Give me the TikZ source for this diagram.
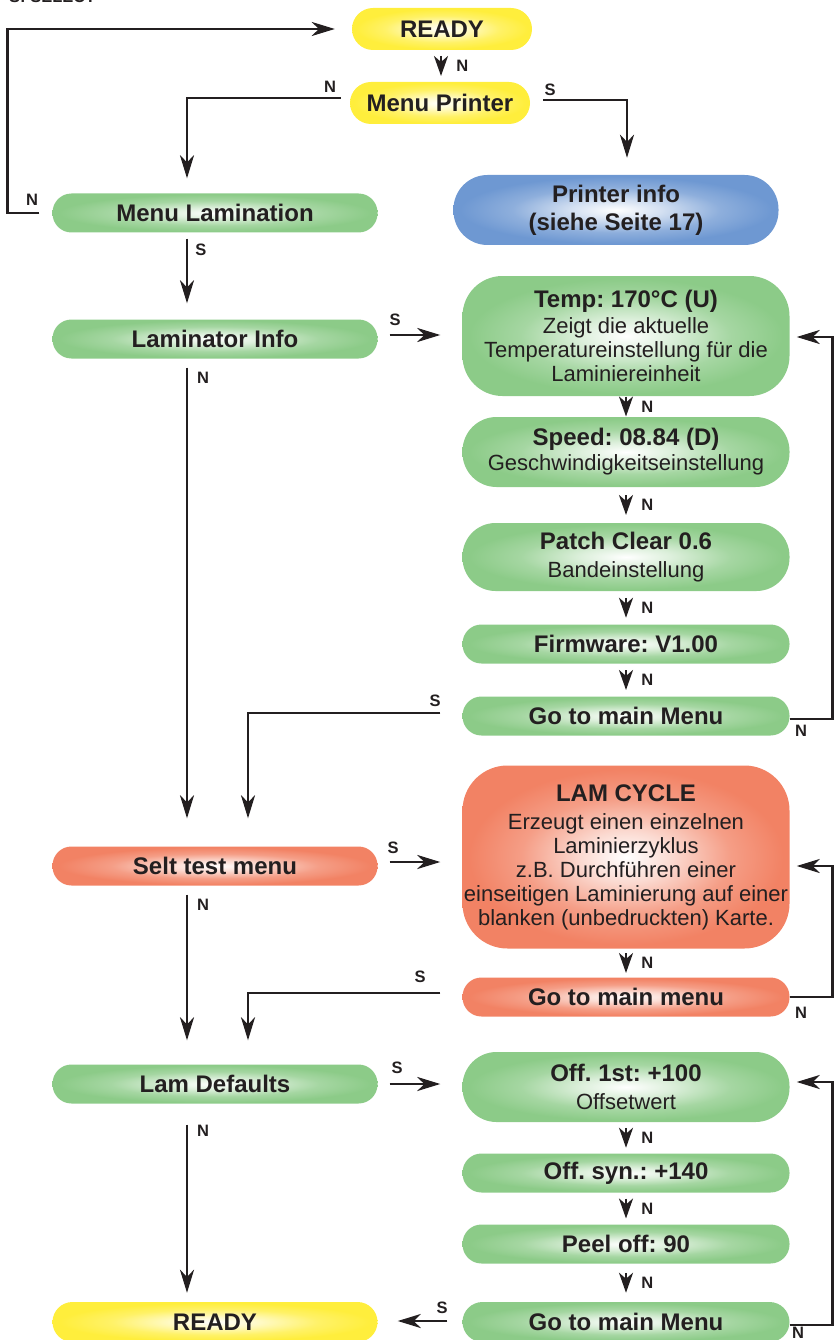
\documentclass[tikz,border=0pt]{standalone}
\usepackage{fontspec}
\setmainfont{Liberation Sans}
\usetikzlibrary{arrows.meta,calc}
\frenchspacing

\definecolor{ink}{HTML}{231F20}
\definecolor{ylw}{HTML}{FFEE3C}
\definecolor{grn}{HTML}{8CCB88}
\definecolor{blu}{HTML}{6E98D2}
\definecolor{org}{HTML}{F28264}

% soft glow from the centre of each box
\newcommand\glowshade[2]{\pgfdeclareradialshading{#1}{\pgfpoint{0bp}{0bp}}{color(0bp)=(white); color(7bp)=(#2!30!white); color(16bp)=(#2!78!white); color(24bp)=(#2); color(50bp)=(#2)}}
\glowshade{glowy}{ylw}
\glowshade{glowg}{grn}
\glowshade{glowb}{blu}
\glowshade{glowo}{org}

\newcommand\titlef{\bfseries\fontsize{24}{28}\selectfont}
\newcommand\descf{\mdseries\fontsize{22}{24}\selectfont}

\begin{document}
\begin{tikzpicture}[
  x=1pt, y=-1pt,
  box/.style={shade, shading=glowg, rounded corners=19pt, minimum width=327pt,
    minimum height=39pt, inner sep=0pt, align=center, text=ink, font=\titlef},
  wide/.style={box, font=\descf},
  yel/.style={shading=glowy},
  blue/.style={shading=glowb},
  red/.style={shading=glowo},
  lbl/.style={font=\bfseries\fontsize{16.5}{16.5}\selectfont, text=ink, inner sep=0pt},
  conn/.style={draw=ink, line width=2.6pt, -{Stealth[length=23pt,width=14pt,inset=7pt]}},
  stub/.style={draw=ink, line width=2.6pt, -{Stealth[length=20pt,width=14pt,inset=6pt]}},
]
\useasboundingbox (0,0) rectangle (837,1340);

% key (runs off the top edge)
\node[lbl, anchor=base west] (key) at (9,3) {S: SELECT};

% left column
\node[box, yel, minimum width=180pt, minimum height=42pt, rounded corners=21pt] (readyA) at (442,29) {READY};
\node[box, yel, minimum width=180pt, minimum height=42pt, rounded corners=21pt] (menuP) at (440,103) {Menu Printer};
\node[box, minimum width=325pt] (menuL) at (215,213) {Menu Lamination};
\node[box, minimum width=325pt] (lamI) at (215,339) {Laminator Info};
\node[box, red, minimum width=325pt] (selt) at (215,866) {Selt test menu};
\node[box, minimum width=325pt] (lamD) at (215,1084) {Lam Defaults};
\node[box, yel, minimum width=325pt, minimum height=40pt, rounded corners=20pt] (readyB) at (215,1322) {READY};

% right column
\node[box, blue, minimum width=325pt, minimum height=70pt, rounded corners=34pt] (pinfo) at (616,210) {Printer info\\(siehe Seite 17)};
\node[wide, minimum height=120pt, rounded corners=40pt] (temp) at (626,336)
  {{\titlef Temp: 170°C (U)}\\[2pt]Zeigt die aktuelle\\Temperatureinstellung für die\\Laminiereinheit};
\node[wide, minimum height=70pt, rounded corners=34pt] (speed) at (626,452)
  {{\titlef Speed: 08.84 (D)}\\[1pt]Geschwindigkeitseinstellung};
\node[wide, minimum height=68pt, rounded corners=33pt] (patch) at (626,557)
  {{\titlef Patch Clear 0.6}\\[4pt]Bandeinstellung};
\node[box] (firm) at (626,644) {Firmware: V1.00};
\node[box] (go1) at (626,716) {Go to main Menu};
\node[wide, red, minimum height=183pt, rounded corners=45pt] (lam) at (626,857)
  {{\titlef LAM CYCLE}\\[4pt]Erzeugt einen einzelnen\\Laminierzyklus\\z.B. Durchführen einer\\einseitigen Laminierung auf einer\\blanken (unbedruckten) Karte.};
\node[box, red] (go2) at (626,997) {Go to main menu};
\node[wide, minimum height=70pt, rounded corners=34pt] (off1) at (626,1087)
  {{\titlef Off. 1st: +100}\\[4pt]Offsetwert};
\node[box] (offs) at (626,1173) {Off. syn.: +140};
\node[box] (peel) at (626,1244) {Peel off: 90};
\node[box, minimum height=40pt, rounded corners=20pt] (go3) at (626,1322) {Go to main Menu};

% short steps between stacked boxes
\foreach \a/\b in {readyA/menuP, temp/speed, speed/patch, patch/firm, firm/go1,
                   lam/go2, off1/offs, offs/peel, peel/go3}{
  \draw[stub] ($(\a.south)!.5!(\b.north)$) ++(0,-10) -- ++(0,20)
    node[lbl, midway, right=14pt] {N};
}

% Menu Lamination back to READY
\draw[conn] ([xshift=-13pt]menuL.west) -- ++(-32,0) |- ([xshift=-17pt]readyA.west);
\node[lbl] (nA) at (32,200) {N};

% Menu Printer branches
\draw[conn] ([shift={(-9,-5)}]menuP.west) -| ([shift={(-28,-15)}]menuL.north);
\node[lbl] (nB) at (330,87) {N};
\draw[conn] ([shift={(13,-3)}]menuP.east) -| ([shift={(11,-17)}]pinfo.north);
\node[lbl] (sB) at (550,90) {S};

% Menu Lamination -> Laminator Info
\draw[conn] ([shift={(-28,6)}]menuL.south) -- ([shift={(-28,-16)}]lamI.north);
\node[lbl] (sC) at (201,250) {S};

% Laminator Info
\draw[conn] ([shift={(12,-4)}]lamI.east) -- ([shift={(-22,-1)}]temp.west);
\node[lbl] (sD) at (395,320) {S};
\draw[conn] ([shift={(-28,9)}]lamI.south) -- ([shift={(-28,-28)}]selt.north);
\node[lbl] (nD) at (203,378) {N};

% Go to main Menu (laminator info loop)
\draw[conn] ([yshift=-3]go1.east) -- ++(43,0) |- ([shift={(7,1)}]temp.east);
\node[lbl] (nE) at (801,731) {N};
\draw[conn] ([shift={(-22,-3)}]go1.west) -| ([shift={(33,-28)}]selt.north);
\node[lbl] (sE) at (435,701) {S};

% Selt test menu
\draw[conn] ([shift={(12,-4)}]selt.east) -- ([shift={(-22,5)}]lam.west);
\node[lbl] (sF) at (393,848) {S};
\draw[conn] ([shift={(-28,9)}]selt.south) -- ([shift={(-28,-24)}]lamD.north);
\node[lbl] (nF) at (203,905) {N};

% Go to main menu (self test loop)
\draw[conn] (go2.east) -- ++(43,0) |- ([shift={(7,9)}]lam.east);
\node[lbl] (nG) at (801,1013) {N};
\draw[conn] ([shift={(-22,-4)}]go2.west) -| ([shift={(33,-24)}]lamD.north);
\node[lbl] (sG) at (420,977) {S};

% Lam Defaults
\draw[conn] ([shift={(12,0)}]lamD.east) -- ([shift={(-22,-3)}]off1.west);
\node[lbl] (sH) at (397,1068) {S};
\draw[conn] ([shift={(-28,21)}]lamD.south) -- ([shift={(-28,-9)}]readyB.north);
\node[lbl] (nH) at (203,1131) {N};

% Go to main Menu (defaults loop)
\draw[conn] ([yshift=-3]go3.east) -- ++(43,0) |- ([shift={(7,-5)}]off1.east);
\node[lbl] (nI) at (798,1333) {N};
\draw[conn] ([shift={(-15,-1)}]go3.west) -- ([shift={(20,-1)}]readyB.east);
\node[lbl] (sI) at (442,1308) {S};
\end{tikzpicture}
\end{document}
